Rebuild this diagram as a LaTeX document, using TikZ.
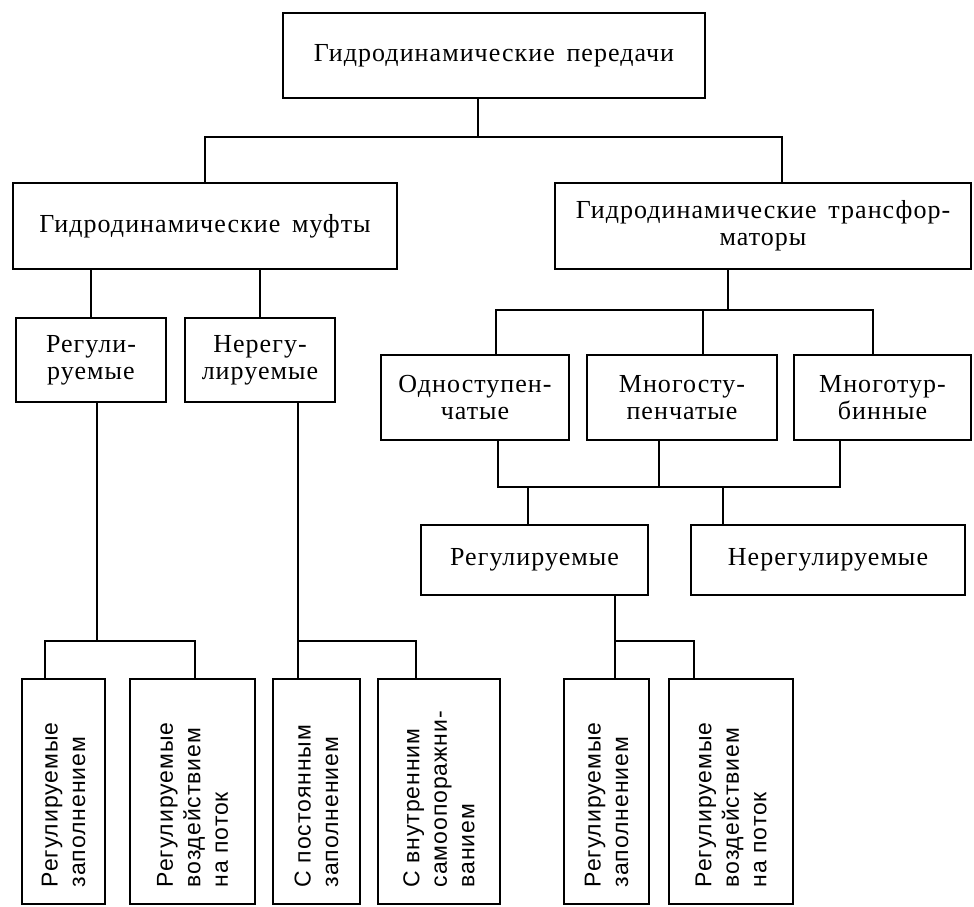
\documentclass[tikz,border=0pt]{standalone}
\usepackage{fontspec}
\setmainfont{Liberation Serif}[LetterSpace=4.0]
\newfontfamily\vsans{Liberation Sans}[LetterSpace=4.0]
\newcommand{\ws}{\hspace{0.45em}}
\begin{document}
\begin{tikzpicture}[x=1pt,y=-1pt,
  line width=1.5pt,
  blk/.style={draw, line width=1.5pt, inner sep=0pt, align=center,
    font=\fontsize{26}{27}\selectfont},
  vbox/.style={draw, line width=1.5pt, inner sep=0pt, minimum height=225pt},
  vtxt/.style={rotate=90, anchor=west, align=left, inner sep=0pt,
    font=\vsans\fontsize{23}{27.5}\selectfont}]
\useasboundingbox (0,0) rectangle (974,906);

% level 0
\node[blk, minimum width=422pt, minimum height=85pt] (top) at (494,55.5) {Гидродинамические\ws передачи};
% level 1
\node[blk, minimum width=384pt, minimum height=86pt] (muf) at (205,226) {Гидродинамические\ws муфты};
\node[blk, minimum width=416pt, minimum height=86pt] (tra) at (763,226) {Гидродинамические\ws трансфор-\\маторы};
% level 2 (left)
\node[blk, minimum width=150pt, minimum height=84pt] (reg) at (91,360) {Регули-\\руемые};
\node[blk, minimum width=150pt, minimum height=84pt] (nereg) at (260,360) {Нерегу-\\лируемые};
% level 2 (right)
\node[blk, minimum width=188pt, minimum height=85pt] (odn) at (475,397.5) {Одноступен-\\чатые};
\node[blk, minimum width=190pt, minimum height=85pt] (mst) at (682,397.5) {Многосту-\\пенчатые};
\node[blk, minimum width=177pt, minimum height=85pt] (mtb) at (882.5,397.5) {Многотур-\\бинные};
% level 3 (right)
\node[blk, minimum width=227pt, minimum height=70pt] (rg) at (534.5,560) {Регулируемые};
\node[blk, minimum width=274pt, minimum height=70pt] (nrg) at (828,560) {Нерегулируемые};

% bottom boxes
\node[vbox, minimum width=83pt] (b1) at (63.5,791.5) {};
\node[vbox, minimum width=125pt] (b2) at (192.5,791.5) {};
\node[vbox, minimum width=87pt] (b3) at (316.5,791.5) {};
\node[vbox, minimum width=122pt] (b4) at (439,791.5) {};
\node[vbox, minimum width=85pt] (b5) at (606.5,791.5) {};
\node[vbox, minimum width=124pt] (b6) at (731,791.5) {};

\node[vtxt] (t1) at (63.5,888) {Регулируемые\\заполнением};
\node[vtxt] (t2) at (192.5,888) {Регулируемые\\воздействием\\на поток};
\node[vtxt] (t3) at (316.5,888) {С постоянным\\заполнением};
\node[vtxt] (t4) at (439,888) {С внутренним\\самоопоражни-\\ванием};
\node[vtxt] (t5) at (606.5,888) {Регулируемые\\заполнением};
\node[vtxt] (t6) at (731,888) {Регулируемые\\воздействием\\на поток};

% junctions
\coordinate (j0) at (478,137);
\coordinate (j1) at (97,641);
\coordinate (j2) at (298,641);
\coordinate (j3) at (728,310);
\coordinate (j4) at (600,487);
\coordinate (j5) at (615,641);

% connectors
\draw ([xshift=-16pt]top.south) -- (j0);
\draw (muf.north) |- (j0) -| ([xshift=19pt]tra.north);
\draw (reg.north) -- (reg.north |- muf.south);
\draw (nereg.north) -- (nereg.north |- muf.south);
\draw ([xshift=6pt]reg.south) -- (j1);
\draw ([xshift=-18.5pt]b1.north) |- (j1) -| ([xshift=2.5pt]b2.north);
\draw ([xshift=38pt]nereg.south) -- ([xshift=-18.5pt]b3.north);
\draw (j2) -| ([xshift=-23pt]b4.north);
\draw ([xshift=-35pt]tra.south) -- (j3);
\draw ([xshift=21pt]odn.north) |- (j3) -| ([xshift=-9.5pt]mtb.north);
\draw ([xshift=21pt]mst.north) -- ([xshift=21pt]mst.north |- j3);
\draw ([xshift=23pt]odn.south) |- (j4) -| ([xshift=-42.5pt]mtb.south);
\draw ([xshift=-23pt]mst.south) -- ([xshift=-23pt]mst.south |- j4);
\draw ([xshift=-6.5pt]rg.north) -- ([xshift=-6.5pt]rg.north |- j4);
\draw ([xshift=-105pt]nrg.north) -- ([xshift=-105pt]nrg.north |- j4);
\draw ([xshift=80.5pt]rg.south) -- ([xshift=8.5pt]b5.north);
\draw (j5) -| ([xshift=-37pt]b6.north);
\end{tikzpicture}
\end{document}
